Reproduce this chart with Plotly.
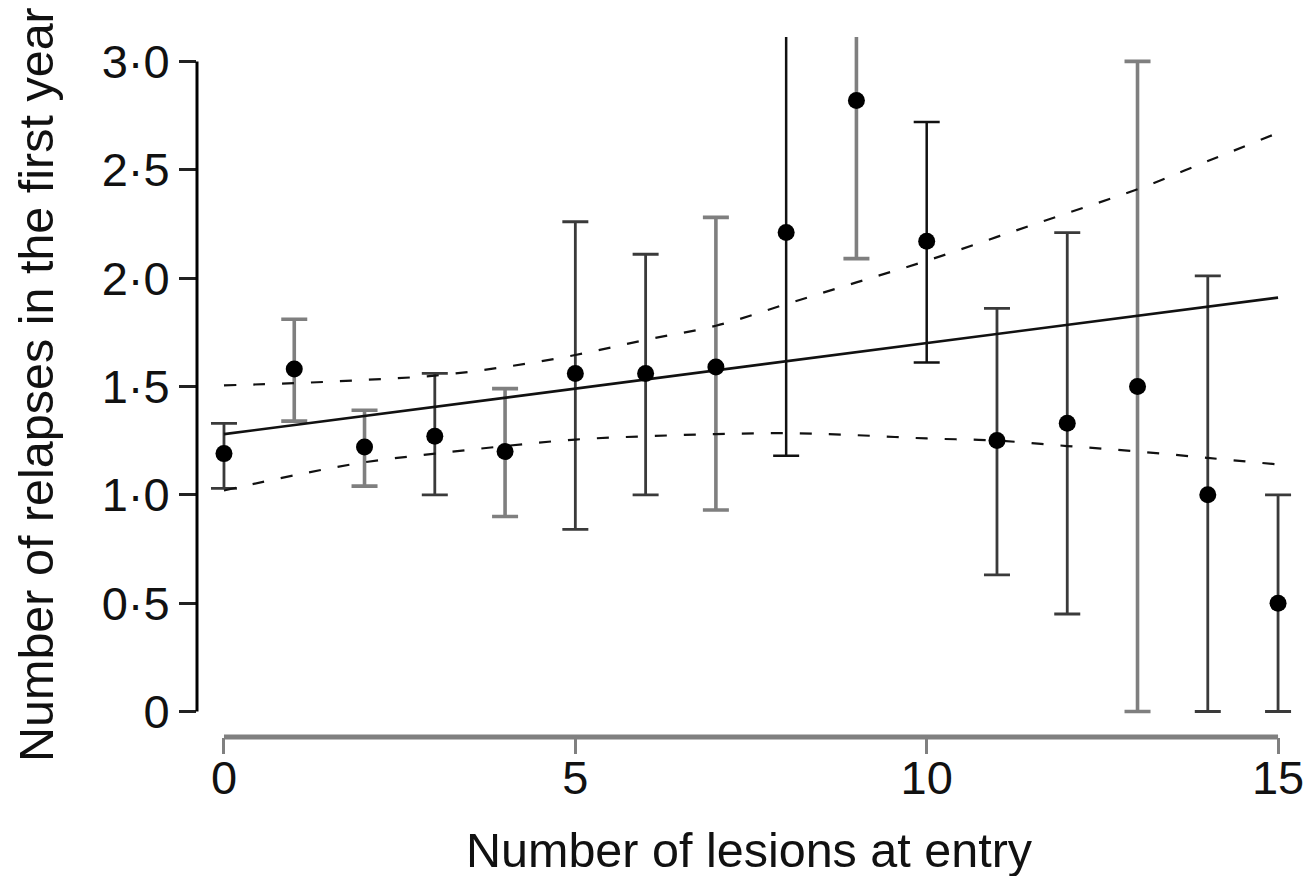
import plotly.graph_objects as go

# ---- data ----
lesions = [0, 1, 2, 3, 4, 5, 6, 7, 8, 9, 10, 11, 12, 13, 14, 15]
mean_relapses = [1.19, 1.58, 1.22, 1.27, 1.20, 1.56, 1.56, 1.59, 2.21, 2.82, 2.17, 1.25, 1.33, 1.50, 1.00, 0.50]
ci_upper = [1.33, 1.81, 1.39, 1.56, 1.49, 2.26, 2.11, 2.28, 3.60, 3.70, 2.72, 1.86, 2.21, 3.00, 2.01, 1.00]
ci_lower = [1.03, 1.34, 1.04, 1.00, 0.90, 0.84, 1.00, 0.93, 1.18, 2.09, 1.61, 0.63, 0.45, 0.00, 0.00, 0.00]

fit_x = [0, 15]
fit_y = [1.28, 1.91]

band_x = [0, 1, 2, 3, 4, 5, 6, 7, 8, 9, 10, 11, 12, 13, 14, 15]
band_upper = [1.505, 1.515, 1.53, 1.55, 1.59, 1.645, 1.715, 1.78, 1.88, 1.98, 2.08, 2.19, 2.30, 2.41, 2.54, 2.67]
band_lower = [1.02, 1.09, 1.15, 1.19, 1.225, 1.255, 1.27, 1.28, 1.284, 1.275, 1.26, 1.25, 1.225, 1.20, 1.17, 1.14]

y_tickvals = [0, 0.5, 1.0, 1.5, 2.0, 2.5, 3.0]
y_ticktext = ["0", "0·5", "1·0", "1·5", "2·0", "2·5", "3·0"]
x_tickvals = [0, 5, 10, 15]
x_ticktext = ["0", "5", "10", "15"]

x_title = "Number of lesions at entry"
y_title = "Number of relapses in the first year"

# ---- styling (rendering shade of each error bar) ----
bar_shade = ["dark", "grey", "grey", "dark", "grey", "dark", "dark", "grey",
             "black", "grey", "black", "dark", "dark", "grey", "dark", "dark"]
shade_colour = {"black": "#111111", "dark": "#3a3a3a", "grey": "#7f7f7f"}
shade_thick = {"black": 2.5, "dark": 2.8, "grey": 3.6}

FONT = "Liberation Sans, Arial, sans-serif"
FS = 47
FS_TITLE = 48.5

fig = go.Figure()

for xi, m, hi, lo, shade in zip(lesions, mean_relapses, ci_upper, ci_lower, bar_shade):
    fig.add_trace(go.Scatter(
        x=[xi], y=[m], mode="markers",
        marker=dict(size=1, color="rgba(0,0,0,0)"),
        error_y=dict(type="data", symmetric=False,
                     array=[hi - m], arrayminus=[m - lo],
                     color=shade_colour[shade], thickness=shade_thick[shade], width=13),
        showlegend=False, hoverinfo="skip"))

fig.add_trace(go.Scatter(x=fit_x, y=fit_y, mode="lines",
                         line=dict(color="#111111", width=2.6), showlegend=False))
fig.add_trace(go.Scatter(x=band_x, y=band_upper, mode="lines", line_shape="spline",
                         line=dict(color="#111111", width=2.2, dash="12px,17px"), showlegend=False))
fig.add_trace(go.Scatter(x=band_x, y=band_lower, mode="lines", line_shape="spline",
                         line=dict(color="#111111", width=2.2, dash="12px,17px"), showlegend=False))

fig.add_trace(go.Scatter(x=lesions, y=mean_relapses, mode="markers",
                         marker=dict(size=17, color="#000000"), showlegend=False))

# detached axis lines
fig.add_shape(type="line", xref="paper", yref="y", x0=0, x1=0,
              y0=y_tickvals[0], y1=y_tickvals[-1], line=dict(color="#000000", width=3))
fig.add_shape(type="line", xref="x", yref="paper", x0=x_tickvals[0], x1=x_tickvals[-1],
              y0=0, y1=0, line=dict(color="#808080", width=5))

fig.update_layout(
    width=1307, height=876,
    margin=dict(l=197, r=12, t=37, b=139),
    paper_bgcolor="white", plot_bgcolor="white",
    font=dict(family=FONT, size=FS, color="#111111"),
    xaxis=dict(range=[-0.384, 15.241], showgrid=False, zeroline=False, showline=False,
               automargin=False, ticklabelstandoff=-16,
               tickmode="array", tickvals=x_tickvals, ticktext=x_ticktext,
               ticks="outside", ticklen=16, tickwidth=3, tickcolor="#808080",
               tickfont=dict(family=FONT, size=FS, color="#111111")),
    yaxis=dict(range=[-0.1177, 3.1125], showgrid=False, zeroline=False, showline=False,
               automargin=False,
               tickmode="array", tickvals=y_tickvals, ticktext=y_ticktext,
               ticks="outside", ticklen=17, tickwidth=3, tickcolor="#222222",
               tickfont=dict(family=FONT, size=FS, color="#111111")),
    annotations=[
        dict(text=x_title, xref="paper", yref="paper", x=0.5036, y=-0.1614,
             xanchor="center", yanchor="middle", showarrow=False,
             font=dict(family=FONT, size=FS_TITLE, color="#111111")),
        dict(text=y_title, xref="paper", yref="paper", x=-0.1466, y=0.5029,
             xanchor="center", yanchor="middle", textangle=-90, showarrow=False,
             font=dict(family=FONT, size=FS_TITLE, color="#111111")),
    ],
)

fig.write_html("out.html")
